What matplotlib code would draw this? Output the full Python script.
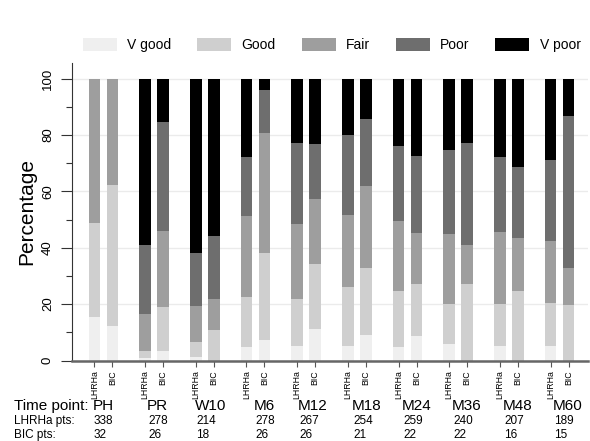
import numpy as np
import matplotlib
matplotlib.use("Agg")
import matplotlib.pyplot as plt
from matplotlib.patches import Patch

plt.rcParams['font.family'] = ['Liberation Sans', 'DejaVu Sans']

time_points = ["PH", "PR", "W10", "M6", "M12", "M18", "M24", "M36", "M48", "M60"]
lhrha_pts = [338, 278, 214, 278, 267, 254, 259, 240, 207, 189]
bic_pts = [32, 26, 18, 26, 26, 21, 22, 22, 16, 15]
categories = ["V good", "Good", "Fair", "Poor", "V poor"]
colors = ["#efefef", "#cfcfcf", "#9e9e9e", "#6e6e6e", "#000000"]

# percentages per category, one value per time point
lhrha_vgood = [15.4, 1.0, 1.2, 4.7, 5.3, 5.3, 4.7, 5.7, 5.0, 5.3]
lhrha_good = [33.5, 2.5, 5.5, 17.7, 16.4, 20.7, 19.8, 14.4, 15.1, 15.1]
lhrha_fair = [51.1, 13.1, 12.5, 28.8, 26.8, 25.7, 25.0, 24.9, 25.5, 21.8]
lhrha_poor = [0, 24.5, 18.9, 21.0, 28.7, 28.2, 26.6, 29.6, 26.6, 28.9]
lhrha_vpoor = [0, 58.9, 61.9, 27.8, 22.8, 20.1, 23.9, 25.4, 27.8, 28.9]

bic_vgood = [12.2, 3.5, 0, 7.3, 11.1, 9.2, 8.8, 0, 0, 0]
bic_good = [50.2, 15.4, 10.9, 30.8, 23.2, 23.7, 18.4, 27.2, 24.5, 19.8]
bic_fair = [37.6, 27.0, 11.0, 42.4, 23.1, 28.9, 18.0, 13.6, 19.1, 13.1]
bic_poor = [0, 38.5, 22.2, 15.6, 19.5, 24.0, 27.3, 36.4, 25.0, 53.7]
bic_vpoor = [0, 15.6, 55.9, 3.9, 23.1, 14.2, 27.5, 22.8, 31.4, 13.4]

lhrha = [lhrha_vgood, lhrha_good, lhrha_fair, lhrha_poor, lhrha_vpoor]
bic = [bic_vgood, bic_good, bic_fair, bic_poor, bic_vpoor]

W, H = 590, 441
fig = plt.figure(figsize=(5.9, 4.41), dpi=100)
ax = fig.add_axes([72 / W, 1 - 360.5 / H, 516 / W, 297.5 / H])

x = np.arange(len(time_points))
off = 0.1775
bw = 0.227
for data, xs in ((lhrha, x - off), (bic, x + off)):
    bottom = np.zeros(len(x))
    for vals, c in zip(data, colors):
        ax.bar(xs, vals, bw, bottom=bottom, color=c, linewidth=0, zorder=2)
        bottom += np.array(vals)

ax.set_xlim(-0.62, 9.56)
ax.set_ylim(0, 105.5)
ax.set_yticks(np.arange(0, 101, 20))
ax.set_yticks(np.arange(10, 100, 20), minor=True)
ax.yaxis.grid(True, color="#ebebeb", linewidth=1, zorder=0)
ax.tick_params(axis='y', which='major', length=8, width=0.8, labelsize=9.5,
               labelrotation=90, pad=5, color="#333333")
ax.tick_params(axis='y', which='minor', length=4, width=0.8, color="#333333")
for t in ax.get_yticklabels():
    t.set_va('center')

xt = np.concatenate([x - off, x + off])
ax.set_xticks(xt)
ax.set_xticklabels(["LHRHa"] * len(x) + ["BIC"] * len(x), rotation=90,
                   fontsize=6.3, va='top')
ax.tick_params(axis='x', length=4, width=0.8, color="#555555", pad=3)

for s in ("top", "right"):
    ax.spines[s].set_visible(False)
ax.spines["left"].set_color("#333333")
ax.spines["bottom"].set_color("#666666")
ax.spines["bottom"].set_linewidth(1.8)

ax.set_ylabel("Percentage", fontsize=15, labelpad=4)

handles = [Patch(facecolor=c, edgecolor='none', label=l) for c, l in zip(colors, categories)]
fig.legend(handles=handles, loc='center left', bbox_to_anchor=(83 / W, 1 - 45 / H),
           ncol=5, frameon=False, fontsize=10, handlelength=2.45, handleheight=1.05,
           handletextpad=0.75, columnspacing=1.85, borderpad=0, borderaxespad=0)

label_x = [93, 147, 195, 254, 298, 352, 402, 452, 503, 553]
fig.text(14 / W, 1 - 406 / H, "Time point:", fontsize=11, va='center')
fig.text(14 / W, 1 - 421 / H, "LHRHa pts:", fontsize=8.5, va='center')
fig.text(14 / W, 1 - 435 / H, "BIC pts:", fontsize=8.5, va='center')
for px, tp, a, b in zip(label_x, time_points, lhrha_pts, bic_pts):
    fig.text(px / W, 1 - 406 / H, tp, fontsize=11, va='center')
    fig.text((px + 1) / W, 1 - 421 / H, str(a), fontsize=8.5, va='center')
    fig.text((px + 1) / W, 1 - 435 / H, str(b), fontsize=8.5, va='center')

fig.savefig("out.png", dpi=100)
